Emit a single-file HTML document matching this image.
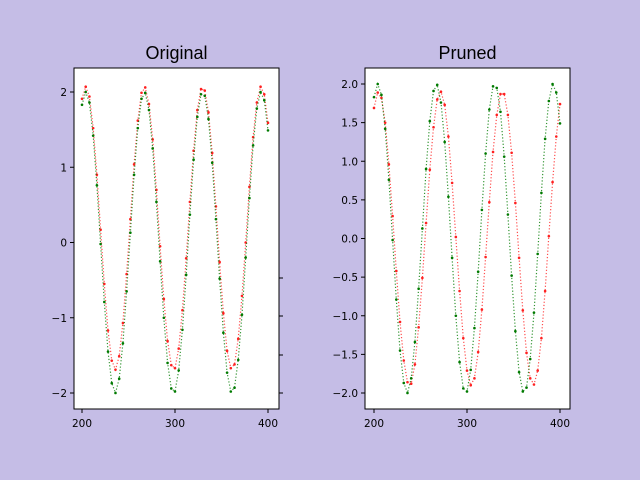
<!DOCTYPE html>
<html><head><meta charset="utf-8"><style>
body{margin:0;background:#c5bde6;}
svg{display:block;font-family:"DejaVu Sans","Liberation Sans",sans-serif;}
</style></head><body>
<svg id="chart" width="640" height="480">
<rect width="640" height="480" fill="#c5bde6"/>
</svg>
<script>
const xValues=[200,204,208,212,216,220,224,228,232,236,240,244,248,252,256,260,264,268,272,276,280,284,288,292,296,300,304,308,312,316,320,324,328,332,336,340,344,348,352,356,360,364,368,372,376,380,384,388,392,396,400];
const greenValues=[1.83,2.00,1.86,1.42,0.76,-0.02,-0.79,-1.45,-1.87,-2.00,-1.81,-1.34,-0.65,0.13,0.90,1.52,1.91,1.99,1.76,1.25,0.54,-0.25,-1.00,-1.60,-1.94,-1.98,-1.70,-1.16,-0.43,0.37,1.10,1.67,1.97,1.95,1.64,1.06,0.31,-0.48,-1.20,-1.73,-1.98,-1.93,-1.56,-0.96,-0.20,0.59,1.29,1.78,2.00,1.89,1.49];
const redOriginal=[1.91,2.07,1.94,1.52,0.90,0.17,-0.55,-1.17,-1.57,-1.69,-1.51,-1.07,-0.42,0.31,1.04,1.62,1.99,2.06,1.84,1.37,0.70,-0.05,-0.75,-1.31,-1.63,-1.67,-1.41,-0.90,-0.21,0.54,1.22,1.76,2.04,2.02,1.73,1.19,0.48,-0.26,-0.94,-1.44,-1.67,-1.62,-1.28,-0.71,0.00,0.74,1.40,1.86,2.07,1.97,1.59];
const redPruned=[1.69,1.89,1.82,1.50,0.96,0.29,-0.42,-1.08,-1.58,-1.86,-1.88,-1.63,-1.15,-0.51,0.20,0.89,1.44,1.80,1.90,1.73,1.32,0.72,0.02,-0.68,-1.29,-1.71,-1.90,-1.81,-1.47,-0.92,-0.24,0.47,1.12,1.60,1.87,1.87,1.60,1.11,0.46,-0.25,-0.93,-1.48,-1.81,-1.89,-1.71,-1.29,-0.68,0.03,0.73,1.32,1.74];
const xTicks=[200,300,400];
const leftYTicks=[-2,-1,0,1,2];
const rightYTicks=[-2.0,-1.5,-1.0,-0.5,0.0,0.5,1.0,1.5,2.0];
const titles=["Original","Pruned"];

const svg=document.getElementById('chart');
const NS='http://www.w3.org/2000/svg';
function mk(tag,attrs,parent){const e=document.createElementNS(NS,tag);for(const k in attrs)e.setAttribute(k,attrs[k]);(parent||svg).appendChild(e);return e;}

function panel(cfg){
  const g=mk('g',{});
  
  
  const xs=v=>cfg.x0+(v-200)*(cfg.x1-cfg.x0)/200;
  const ys=v=>cfg.y0+(2-v)*(cfg.y1-cfg.y0)/4;
  const bg=mk('rect',{x:cfg.L,y:cfg.T,width:cfg.R-cfg.L,height:cfg.B-cfg.T,fill:'#fff',stroke:'none'},g);
  
  
  const series=[[cfg.red,'#ff2020','red-series'],[greenValues,'#007a00','green-series']];
  series.forEach(([vals,col,nm])=>{
    const sg=mk('g',{},g);
    
    
    const pts=xValues.map((x,i)=>xs(x).toFixed(1)+','+ys(vals[i]).toFixed(1)).join(' ');
    mk('polyline',{points:pts,fill:'none',stroke:col,'stroke-width':1.2,'stroke-dasharray':'1.2 2','opacity':0.8},sg);
    xValues.forEach((x,i)=>{
      const c=mk('circle',{cx:xs(x),cy:ys(vals[i]),r:1.3,fill:col},sg);
      
      
    });
  });
  const fr=mk('rect',{x:cfg.L,y:cfg.T,width:cfg.R-cfg.L,height:cfg.B-cfg.T,fill:'none',stroke:'#000','stroke-width':1},g);
  
  
  xTicks.forEach(t=>{
    const X=xs(t);
    mk('line',{x1:X,x2:X,y1:cfg.B,y2:cfg.B+4,stroke:'#000'},g);
    const tx=mk('text',{x:X,y:cfg.B+18,'text-anchor':'middle','font-size':10.5,fill:'#000'},g);
    tx.textContent=String(t);
    
    
  });
  cfg.yTicks.forEach(t=>{
    const Y=ys(t);
    mk('line',{x1:cfg.L-4,x2:cfg.L,y1:Y,y2:Y,stroke:'#000'},g);
    const tx=mk('text',{x:cfg.L-7,y:Y+4,'text-anchor':'end','font-size':10.5,fill:'#000'},g);
    tx.textContent=cfg.fmt(t).replace('-','\u2212');
    
    
  });
  const ti=mk('text',{x:(cfg.L+cfg.R)/2,y:cfg.T-9,'text-anchor':'middle','font-size':18,fill:'#000','font-family':'Liberation Sans, sans-serif'},g);
  ti.textContent=cfg.title;
  
  
}
panel({name:'original-panel',L:74,R:279,T:68,B:409,x0:82,x1:268,y0:92,y1:393,red:redOriginal,yTicks:leftYTicks,fmt:v=>String(v),title:titles[0]});
panel({name:'pruned-panel',L:365,R:570,T:68,B:409,x0:374,x1:560,y0:84,y1:393,red:redPruned,yTicks:rightYTicks,fmt:v=>v.toFixed(1),title:titles[1]});
[278,316,355,393].forEach(y=>{
  const l=mk('line',{x1:279,x2:283,y1:y,y2:y,stroke:'#000'});
  
  
});
</script>
</body></html>
